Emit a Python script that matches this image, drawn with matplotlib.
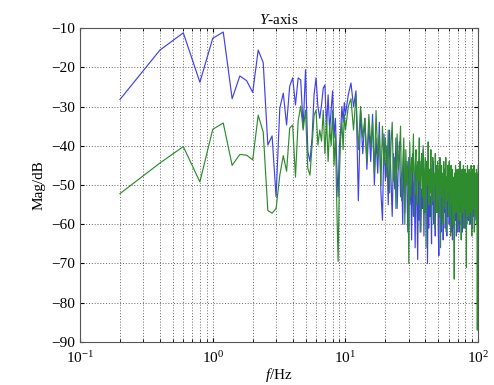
import numpy as np
import matplotlib
matplotlib.use("Agg")
import matplotlib.pyplot as plt
from matplotlib.ticker import LogLocator, FixedLocator

plt.rcParams['font.family'] = ['Liberation Serif', 'DejaVu Serif']
plt.rcParams['mathtext.fontset'] = 'custom'
plt.rcParams['mathtext.rm'] = 'Liberation Serif'
plt.rcParams['mathtext.it'] = 'Liberation Serif:italic'
plt.rcParams['font.size'] = 10

# sample frequencies: 0.2 Hz steps up to 10 Hz, then 0.5 Hz steps
freq_low = np.round(np.arange(1, 51) * 0.2, 1)
freq_high = np.round(10 + np.arange(1, 181) * 0.5, 1)

blue_low = [-28.2, -15.6, -11.2, -23.8, -12.6, -11.0, -28.0, -22.2, -23.4, -26.4,
            -15.6, -18.8, -39.8, -37.5, -53.0,
            -30.4, -26.6, -34.7, -24.8, -22.7, -29.6, -22.7, -23.2, -35.5, -20.6,
            -41.4, -44.0, -38.0, -27.0, -22.7, -30.0, -33.0, -29.6, -25.3, -24.5,
            -35.5, -27.0, -36.0, -31.0, -26.0, -38.0, -33.0, -45.0, -53.0, -40.0,
            -36.0, -30.0, -34.0, -29.0, -32.0]
green_low = [-52.2, -44.4, -40.2, -49.2, -35.8, -34.2, -45.0, -42.2, -42.4, -43.6,
             -32.2, -36.5, -56.5, -57.2, -56.0,
             -47.5, -42.5, -46.5, -35.5, -34.7, -48.0, -33.7, -29.9, -36.0, -30.9,
             -45.7, -47.5, -40.0, -32.2, -30.9, -39.8, -36.0, -38.8, -31.0, -42.0,
             -33.0, -44.0, -35.0, -40.0, -31.0, -45.0, -37.0, -55.0, -69.5, -48.0,
             -38.0, -34.0, -41.0, -32.0, -36.0]

blue_high = [-27, -24, -30, -26, -54, -31, -42, -33, -46, -35,
             -44, -32, -50, -38, -47, -34, -52, -59, -37, -49,
             -40, -55, -36, -48, -58, -42, -51, -38, -56, -45,
             -39, -53, -47, -60, -41, -57, -44, -50, -62, -43,
             -55, -46, -64, -42, -58, -49, -66, -45, -53, -69,
             -47, -59, -44, -62, -51, -56, -41, -63, -48, -57,
             -52, -45, -70, -49, -61, -46, -58, -53, -65, -48,
             -55, -44, -60, -50, -63, -47, -57, -52, -45, -61,
             -68, -50, -56, -46, -62, -53, -59, -48, -64, -51,
             -57, -47, -61, -54, -50, -63, -49, -58, -55, -46,
             -60, -52, -57, -48, -62, -54, -50, -64, -53, -58,
             -49, -61, -55, -51, -59, -47, -63, -56, -52, -60,
             -54, -48, -58, -62, -50, -57, -53, -46, -60, -55,
             -51, -62, -56, -49, -59, -53, -57, -50, -61, -54,
             -48, -58, -52, -60, -55, -49, -57, -53, -59, -51,
             -56, -50, -58, -54, -47, -60, -52, -57, -49, -55,
             -61, -53, -48, -58, -51, -56, -50, -59, -54, -52,
             -57, -49, -55, -60, -51, -47, -56, -53, -50, -48]
green_high = [-30, -28, -36, -27, -41, -30, -38, -33, -44, -32,
              -40, -34, -47, -31, -43, -37, -50, -35, -45, -38,
              -48, -36, -52, -40, -34, -49, -43, -56, -37, -46,
              -42, -35, -54, -45, -38, -60, -41, -50, -44, -70,
              -39, -53, -43, -47, -37, -58, -45, -41, -55, -44,
              -49, -38, -62, -46, -42, -53, -40, -57, -47, -43,
              -66, -44, -50, -39, -55, -46, -52, -41, -59, -48,
              -43, -54, -47, -61, -42, -50, -45, -57, -44, -52,
              -46, -58, -43, -66, -49, -45, -53, -47, -60, -44,
              -51, -46, -56, -43, -62, -48, -54, -45, -50, -58,
              -44, -52, -47, -63, -45, -55, -49, -46, -60, -48,
              -53, -74, -47, -51, -45, -57, -49, -54, -46, -62,
              -48, -52, -46, -59, -50, -44, -55, -49, -64, -47,
              -53, -46, -57, -50, -45, -61, -48, -52, -46, -56,
              -49, -54, -71, -47, -52, -45, -58, -50, -48, -55,
              -46, -60, -49, -53, -47, -57, -45, -51, -63, -48,
              -52, -46, -56, -49, -54, -45, -62, -50, -58, -47,
              -53, -48, -55, -46, -60, -50, -87, -47, -52, -45]

freq = np.concatenate([freq_low, freq_high])
blue = np.concatenate([blue_low, blue_high])
green = np.concatenate([green_low, green_high])

fig = plt.figure(figsize=(4.94, 3.85), dpi=100)
ax = fig.add_axes([0.162, 0.112, 0.806, 0.815])

ax.semilogx(freq, blue, color='#4040ee', lw=0.85)
ax.semilogx(freq, green, color='#2e8b2e', lw=0.85)

ax.set_xlim(0.1, 100)
ax.set_ylim(-90, -10)
ax.set_yticks(np.arange(-90, -9, 10))
ax.xaxis.set_major_locator(FixedLocator([0.1, 1, 10, 100]))
ax.xaxis.set_minor_locator(LogLocator(base=10, subs=np.arange(2, 10)))
ax.set_xticklabels([r'$10^{-1}$', r'$10^{0}$', r'$10^{1}$', r'$10^{2}$'])

ax.grid(True, which='major', ls=(0, (1.2, 2.2)), color='#555555', lw=0.6)
ax.grid(True, which='minor', axis='x', ls=(0, (1.2, 2.2)), color='#555555', lw=0.6)

ax.tick_params(which='both', direction='in', top=True, right=True, labelsize=11)
ax.tick_params(which='major', length=3)
ax.tick_params(which='minor', length=2)
ax.tick_params(axis='x', which='major', pad=6)
for s in ax.spines.values():
    s.set_color('#555555')
    s.set_linewidth(0.8)

ax.set_title(r'$\mathit{Y}$-axis', fontsize=11, pad=3)
ax.set_xlabel(r'$\mathit{f}$/Hz', fontsize=11, labelpad=0)
ax.set_ylabel('Mag/dB', fontsize=11, labelpad=4)

fig.savefig('out.png', dpi=100)
